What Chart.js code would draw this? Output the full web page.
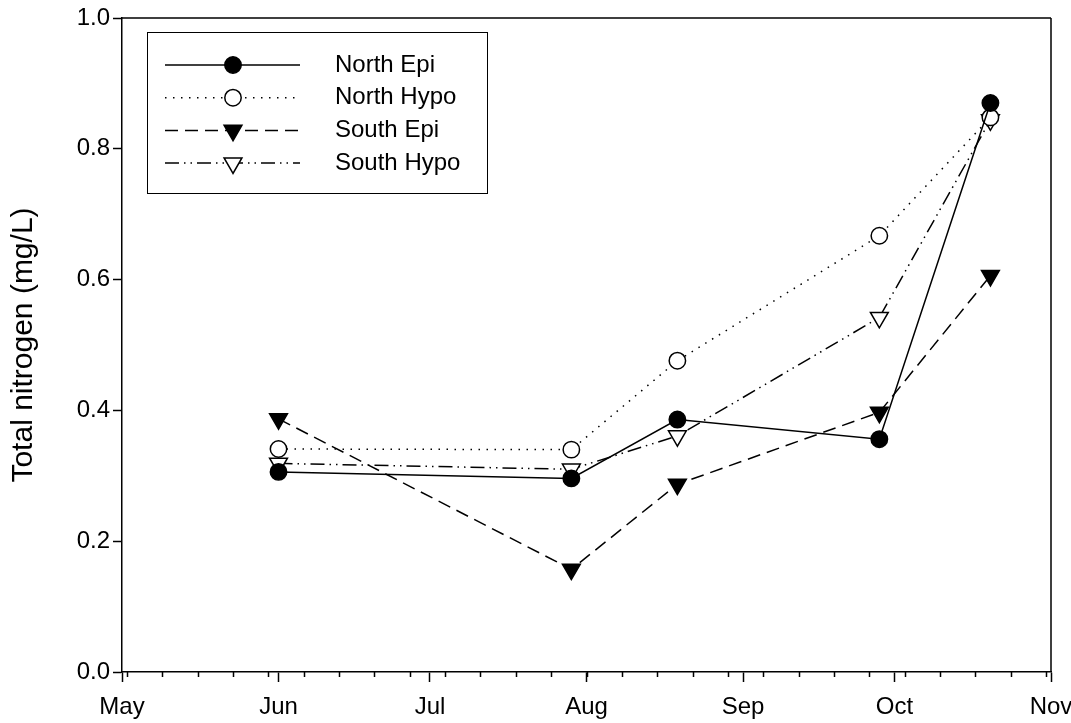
<!DOCTYPE html>
<html>
<head>
<meta charset="utf-8">
<script src="https://cdn.jsdelivr.net/npm/chart.js@4/dist/chart.umd.min.js"></script>
<style>
  html, body { margin: 0; padding: 0; background: #fff; }
  #wrap { width: 1071px; height: 723px; }
</style>
</head>
<body>
<div id="wrap"><canvas id="tn" width="1071" height="723"></canvas></div>
<script>
// Sampling dates (season origin is 1 May)
const seasonStart = '2000-05-01';
const sampleDates = ['2000-06-01', '2000-07-29', '2000-08-19', '2000-09-28', '2000-10-20'];

// Total nitrogen (mg/L) per station and layer
const northEpi  = [0.306, 0.296, 0.386, 0.356, 0.870];
const northHypo = [0.341, 0.340, 0.476, 0.667, 0.848];
const southEpi  = [0.387, 0.157, 0.287, 0.397, 0.606];
const southHypo = [0.319, 0.310, 0.361, 0.542, 0.844];

// Axis labelling
const monthLabels = ['May', 'Jun', 'Jul', 'Aug', 'Sep', 'Oct', 'Nov'];
const monthStarts = ['2000-05-01', '2000-06-01', '2000-07-01', '2000-08-01', '2000-09-01', '2000-10-01', '2000-11-01'];
const minorTickStart = '2000-05-02';   // weekly minor ticks from here
const yTicks = [0, 0.2, 0.4, 0.6, 0.8, 1.0];

const DAY = 86400000;
const dayOf = s => (Date.parse(s + 'T00:00:00Z') - Date.parse(seasonStart + 'T00:00:00Z')) / DAY;
const xDays = sampleDates.map(dayOf);
const monthDays = monthStarts.map(dayOf);
const pts = vals => vals.map((v, i) => ({ x: xDays[i], y: v }));

const FONT = '"Liberation Sans", Arial, Helvetica, sans-serif';

// Marker drawing shared by the legend
function drawMarker(ctx, ds, x, y) {
  ctx.save();
  ctx.lineWidth = ds.pointBorderWidth;
  ctx.strokeStyle = ds.pointBorderColor;
  ctx.fillStyle = ds.pointBackgroundColor;
  ctx.setLineDash([]);
  ctx.beginPath();
  const r = ds.pointRadius;
  if (ds.pointStyle === 'triangle') {
    // downward triangle inscribed in radius r
    const rad = Math.PI;
    for (let k = 0; k < 3; k++) {
      const a = rad + k * 2 * Math.PI / 3;
      const px = x + Math.sin(a) * r, py = y - Math.cos(a) * r;
      if (k === 0) ctx.moveTo(px, py); else ctx.lineTo(px, py);
    }
    ctx.closePath();
  } else {
    ctx.arc(x, y, r, 0, Math.PI * 2);
  }
  ctx.fill();
  ctx.stroke();
  ctx.restore();
}

// Box around the plot, weekly minor ticks and the boxed legend
const decorations = {
  id: 'decorations',
  afterDraw(chart) {
    const { ctx, chartArea: a, scales } = chart;
    ctx.save();
    ctx.strokeStyle = '#000';
    ctx.lineWidth = 1.5;
    ctx.setLineDash([]);
    ctx.beginPath();
    ctx.moveTo(a.left, a.top); ctx.lineTo(a.right, a.top);
    ctx.moveTo(a.right, a.top); ctx.lineTo(a.right, a.bottom);
    ctx.stroke();

    // minor x ticks every 7 days
    const xs = scales.x;
    ctx.beginPath();
    for (let d = dayOf(minorTickStart); d <= xs.max; d += 7) {
      const px = Math.round(xs.getPixelForValue(d)) + 0.5;
      ctx.moveTo(px, a.bottom);
      ctx.lineTo(px, a.bottom + 5);
    }
    ctx.stroke();

    // legend
    const lx = a.left + 25, ly = a.top + 14, lw = 340, lh = 161;
    ctx.lineWidth = 1;
    ctx.strokeRect(lx + 0.5, ly + 0.5, lw, lh);
    ctx.font = '24px ' + FONT;
    ctx.fillStyle = '#000';
    ctx.textBaseline = 'middle';
    chart.data.datasets.forEach((ds, i) => {
      const y = ly + 33 + i * 32.7;
      ctx.save();
      ctx.lineWidth = ds.borderWidth;
      ctx.strokeStyle = ds.borderColor;
      ctx.setLineDash(ds.borderDash || []);
      ctx.beginPath();
      ctx.moveTo(lx + 18, y);
      ctx.lineTo(lx + 153, y);
      ctx.stroke();
      ctx.restore();
      drawMarker(ctx, ds, lx + 86, y);
      ctx.fillText(ds.label, lx + 188, y);
    });
    ctx.restore();
  }
};

function series(label, data, dash, style, filled) {
  return {
    label,
    data: pts(data),
    borderColor: '#000',
    borderWidth: 1.5,
    borderDash: dash,
    pointStyle: style,
    pointRotation: style === 'triangle' ? 180 : 0,
    pointRadius: style === 'triangle' ? 10.3 : 8.2,
    pointHoverRadius: style === 'triangle' ? 10.3 : 8.2,
    pointBorderColor: '#000',
    pointBorderWidth: 1.5,
    pointBackgroundColor: filled ? '#000' : '#fff',
    tension: 0,
    fill: false
  };
}

new Chart(document.getElementById('tn'), {
  type: 'line',
  data: {
    datasets: [
      series('North Epi', northEpi, [], 'circle', true),
      series('North Hypo', northHypo, [1.5, 6.5], 'circle', false),
      series('South Epi', southEpi, [13, 7], 'triangle', true),
      series('South Hypo', southHypo, [14, 5, 1.5, 5, 1.5, 5], 'triangle', false)
    ]
  },
  options: {
    responsive: false,
    animation: false,
    devicePixelRatio: 1,
    layout: { padding: { top: 18, right: 20, left: 0, bottom: 0 } },
    plugins: { legend: { display: false }, tooltip: { enabled: false } },
    scales: {
      x: {
        type: 'linear',
        min: monthDays[0],
        max: monthDays[monthDays.length - 1],
        afterBuildTicks: s => { s.ticks = monthDays.map(v => ({ value: v })); },
        afterFit: s => { s.height = 51; s.paddingLeft = 0; s.paddingRight = 0; },
        ticks: {
          autoSkip: false,
          maxRotation: 0,
          padding: 11,
          color: '#000',
          font: { family: FONT, size: 24 },
          callback: (v) => monthLabels[monthDays.indexOf(v)]
        },
        grid: { drawOnChartArea: false, tickLength: 10, tickWidth: 1.5, tickColor: '#000' },
        border: { display: true, color: '#000', width: 1.5 }
      },
      y: {
        min: 0,
        max: 1,
        afterBuildTicks: s => { s.ticks = yTicks.map(v => ({ value: v })); },
        afterFit: s => { s.width = 122; s.paddingTop = 0; s.paddingBottom = 0; },
        ticks: {
          padding: 3,
          color: '#000',
          font: { family: FONT, size: 24 },
          callback: v => Number(v).toFixed(1)
        },
        title: {
          display: true,
          text: 'Total nitrogen (mg/L)',
          color: '#000',
          font: { family: FONT, size: 30 },
          padding: { top: 6, bottom: 0 }
        },
        grid: { drawOnChartArea: false, tickLength: 9, tickWidth: 1.5, tickColor: '#000' },
        border: { display: true, color: '#000', width: 1.5 }
      }
    }
  },
  plugins: [decorations]
});
</script>
</body>
</html>
